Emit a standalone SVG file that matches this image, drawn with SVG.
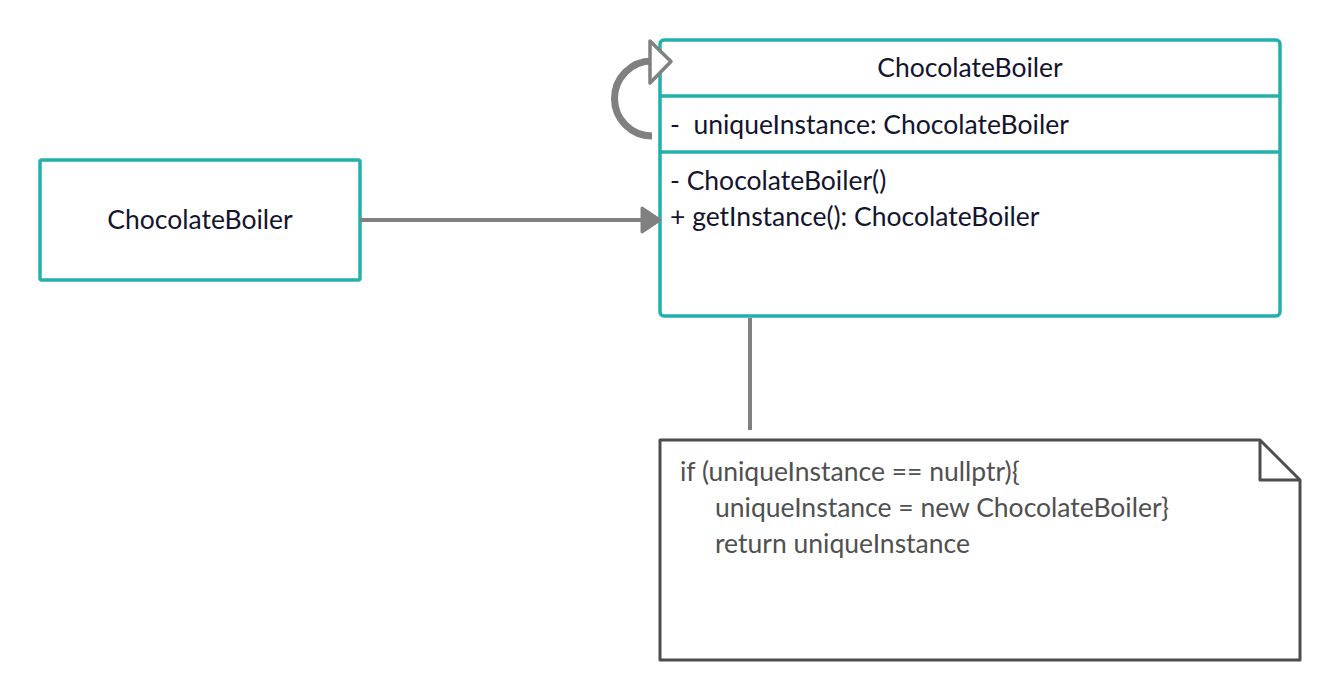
<svg xmlns="http://www.w3.org/2000/svg" width="1340" height="700" viewBox="0 0 1340 700">
<defs>
<style>
.box{fill:#ffffff;stroke:#22b0ac;stroke-width:3.5}
.div{stroke:#22b0ac;stroke-width:3.5}
.t{font-family:Lato,"Open Sans","Liberation Sans",sans-serif;font-size:26.5px;fill:#14142e}
.n{font-family:Lato,"Open Sans","Liberation Sans",sans-serif;font-size:26.5px;fill:#505050}
.conn{fill:none;stroke:#808080;stroke-width:4}
</style>
</defs>
<rect width="1340" height="700" fill="#ffffff"/>
<g id="client">
<rect class="box" x="40" y="160" width="320" height="120" rx="2"/>
<text class="t" x="200" y="229" text-anchor="middle">ChocolateBoiler</text>
</g>
<g id="class">
<rect class="box" x="660" y="40" width="620" height="276" rx="4"/>
<line class="div" x1="660" y1="96" x2="1280" y2="96"/>
<line class="div" x1="660" y1="152" x2="1280" y2="152"/>
<text class="t" x="970" y="77" text-anchor="middle">ChocolateBoiler</text>
<text class="t" x="670" y="134" xml:space="preserve">-  uniqueInstance: ChocolateBoiler</text>
<text class="t" x="670" y="190">- ChocolateBoiler()</text>
<text class="t" x="670" y="226">+ getInstance(): ChocolateBoiler</text>
</g>
<g id="note">
<path d="M660,440 L1260,440 L1300,480 L1300,660 L660,660 Z" fill="#ffffff" stroke="#4d4d4d" stroke-width="3" stroke-linejoin="round"/>
<path d="M1260,440 L1260,480 L1300,480" fill="none" stroke="#4d4d4d" stroke-width="3" stroke-linejoin="round"/>
<text class="n" x="680" y="481">if (uniqueInstance == nullptr){</text>
<text class="n" x="715" y="517">uniqueInstance = new ChocolateBoiler}</text>
<text class="n" x="715" y="553">return uniqueInstance</text>
</g>
<g id="connectors">
<path class="conn" d="M360,220 L643,220"/>
<path d="M642,208 L660,220 L642,232 Z" fill="#808080" stroke="#808080" stroke-width="3" stroke-linejoin="round"/>
<path fill="none" stroke="#808080" stroke-width="7" d="M652,136 A37.5,37.5 0 0 1 652,61"/>
<path d="M650,41 L671,61.5 L650,83 Z" fill="#ffffff" stroke="#808080" stroke-width="3.5" stroke-linejoin="round"/>
<path class="conn" d="M750,318 L750,430"/>
</g>
</svg>
